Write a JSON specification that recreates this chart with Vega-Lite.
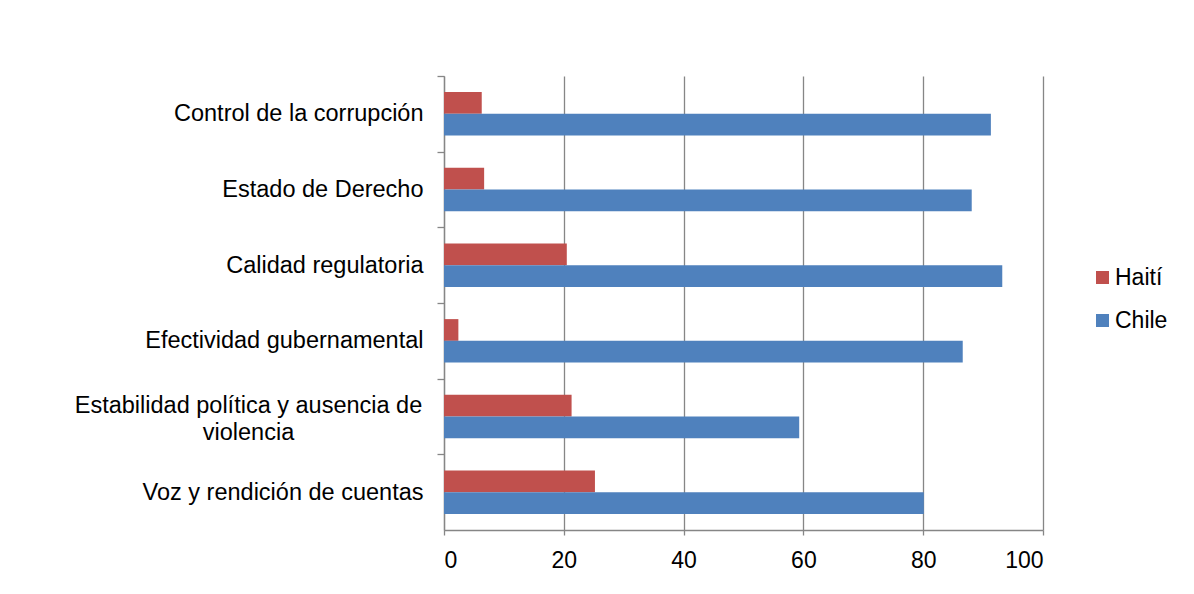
{
  "$schema": "https://vega.github.io/schema/vega-lite/v6.json",
  "width": 599,
  "height": 454,
  "autosize": {"type": "none"},
  "padding": {"left": 444, "top": 76, "right": 151, "bottom": 64},
  "background": "white",
  "config": {"view": {"stroke": null}, "font": "Liberation Sans"},
  "data": {
    "values": [
      {"indicador": "Control de la corrupción", "pais": "Haití", "valor": 6.3},
      {"indicador": "Control de la corrupción", "pais": "Chile", "valor": 91.3},
      {"indicador": "Estado de Derecho", "pais": "Haití", "valor": 6.7},
      {"indicador": "Estado de Derecho", "pais": "Chile", "valor": 88.1},
      {"indicador": "Calidad regulatoria", "pais": "Haití", "valor": 20.5},
      {"indicador": "Calidad regulatoria", "pais": "Chile", "valor": 93.2},
      {"indicador": "Efectividad gubernamental", "pais": "Haití", "valor": 2.4},
      {"indicador": "Efectividad gubernamental", "pais": "Chile", "valor": 86.6},
      {"indicador": "Estabilidad política y ausencia de violencia", "pais": "Haití", "valor": 21.3},
      {"indicador": "Estabilidad política y ausencia de violencia", "pais": "Chile", "valor": 59.3},
      {"indicador": "Voz y rendición de cuentas", "pais": "Haití", "valor": 25.2},
      {"indicador": "Voz y rendición de cuentas", "pais": "Chile", "valor": 80.1}
    ]
  },
  "mark": {"type": "bar"},
  "encoding": {
    "y": {
      "field": "indicador",
      "type": "nominal",
      "sort": ["Control de la corrupción", "Estado de Derecho", "Calidad regulatoria", "Efectividad gubernamental", "Estabilidad política y ausencia de violencia", "Voz y rendición de cuentas"],
      "scale": {"paddingInner": 0.426, "paddingOuter": 0.213},
      "axis": {
        "title": null,
        "bandPosition": 0,
        "tickOffset": -16.1,
        "domainColor": "#868686",
        "domainWidth": 1.3,
        "tickColor": "#868686",
        "tickWidth": 1.3,
        "tickSize": 7,
        "labelFontSize": 23.5,
        "labelColor": "#000000",
        "labelLimit": 1000,
        "labelLineHeight": 27,
        "labelBaseline": "middle",
        "labelExpr": "datum.value == 'Estabilidad política y ausencia de violencia' ? ['Estabilidad política y ausencia de', 'violencia'] : datum.value",
        "labelAlign": {"condition": {"test": "datum.value == 'Estabilidad política y ausencia de violencia'", "value": "center"}, "value": "right"},
        "labelPadding": {"condition": {"test": "datum.value == 'Estabilidad política y ausencia de violencia'", "value": 189}, "value": 14},
        "labelOffset": {"condition": {"test": "datum.value == 'Estabilidad política y ausencia de violencia'", "value": 4.6}, "value": 16.1}
      }
    },
    "yOffset": {"field": "pais", "sort": ["Haití", "Chile"]},
    "x": {
      "field": "valor",
      "type": "quantitative",
      "scale": {"domain": [0, 100], "nice": false},
      "axis": {
        "title": null,
        "values": [0, 20, 40, 60, 80, 100],
        "grid": true,
        "gridColor": "#868686",
        "gridWidth": 1.3,
        "domainColor": "#868686",
        "domainWidth": 1.3,
        "tickColor": "#868686",
        "tickWidth": 1.3,
        "tickSize": 5,
        "labelFontSize": 23,
        "labelColor": "#000000",
        "labelPadding": 14
      }
    },
    "color": {
      "field": "pais",
      "type": "nominal",
      "scale": {"domain": ["Haití", "Chile"], "range": ["#C0504D", "#4F81BD"]},
      "legend": {
        "title": null,
        "orient": "none",
        "legendX": 647,
        "legendY": 190,
        "padding": 0,
        "symbolType": "square",
        "symbolSize": 169,
        "symbolStrokeWidth": 0,
        "labelFontSize": 23,
        "labelColor": "#000000",
        "labelOffset": 1,
        "rowPadding": 19
      }
    }
  }
}
